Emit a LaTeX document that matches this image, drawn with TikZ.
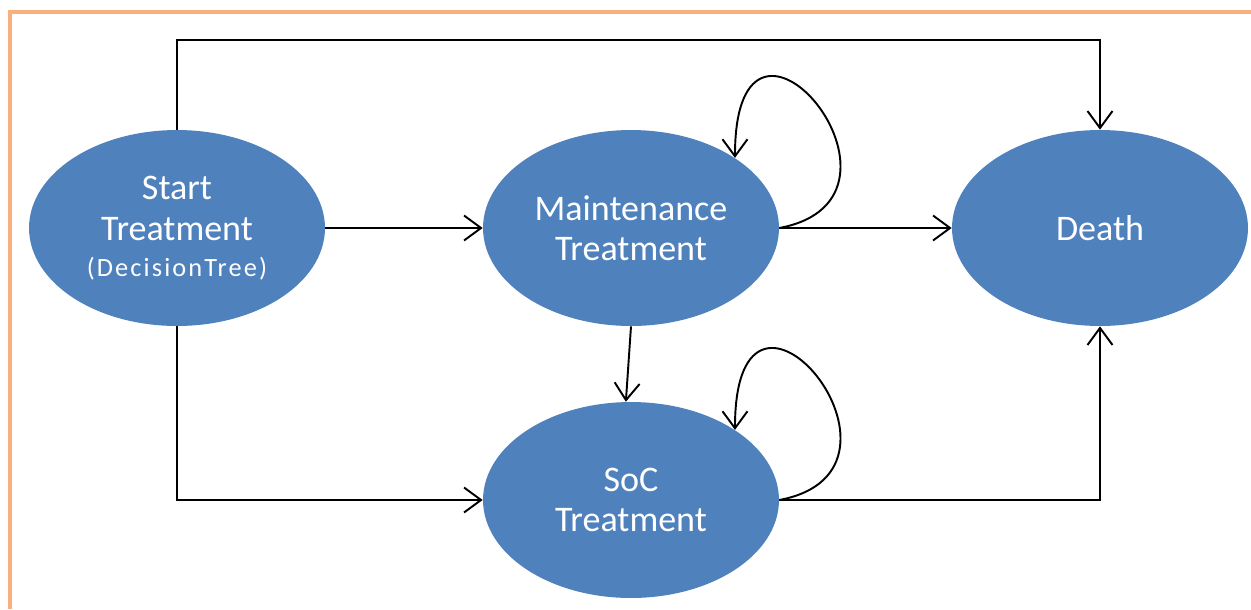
\documentclass[tikz,border=0pt]{standalone}
\usepackage{fontspec}
\setmainfont{Carlito}
\usetikzlibrary{arrows.meta}
\usetikzlibrary{shapes.geometric}
\usetikzlibrary{positioning}
\definecolor{stateblue}{HTML}{4F81BD}
\definecolor{framecol}{HTML}{F9B07C}

\begin{document}
\begin{tikzpicture}[x=0.02cm,y=-0.02cm,->,>={Straight Barb[length=3.4mm,width=5mm]}]
				\tikzset{vertex/.style = {shape=ellipse, fill=stateblue, text=white, minimum width=5.92cm, minimum height=3.92cm, inner sep=0pt, align=center, font=\fontsize{20.5}{22.5}\selectfont}}
				\tikzset{edge/.style = {line width=1.1pt, black}}
				\useasboundingbox (0,0) rectangle (1251,609);
				\draw[-, framecol, line width=2.4pt] (10,609) -- (10,12) -- (1251,12);
				
				\node[vertex] (START) at (177,228) {Start\\[1pt]Treatment\\[-2pt]{\fontsize{15}{17}\selectfont\addfontfeature{LetterSpace=8}(DecisionTree)}};
				\node[vertex] (MAINT) at (631,228) {Maintenance\\Treatment};
				\node[vertex] (DEATH) at (1100,228) {Death};
				\node[vertex] (SOC) at (631,500) {SoC\\Treatment};
				
				\draw[edge] (START.north) -- ++(0,-90) -| (DEATH.north);
				\draw[edge] (START.east) -- (MAINT.west);
				\draw[edge] (MAINT.east) -- (DEATH.west);
				\draw[edge] (START.south) |- (SOC.west);
				\draw[edge] (MAINT.south) -- (SOC.93);
				\draw[edge] (SOC.east) -| (DEATH.south);
				\draw[edge] (MAINT.east) .. controls +(160,-30) and +(0,-205) .. (MAINT.34);
				\draw[edge] (SOC.east) .. controls +(160,-30) and +(0,-205) .. (SOC.34);
				
\end{tikzpicture}
\end{document}
